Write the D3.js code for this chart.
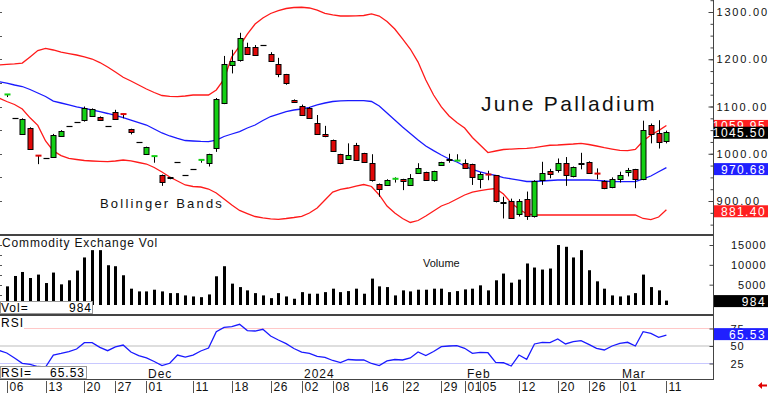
<!DOCTYPE html>
<html lang="en">
<head>
<meta charset="UTF-8">
<title>June Palladium</title>
<style>
  body { margin: 0; background: #fff; overflow: hidden; }
  svg { display: block; font-family: "Liberation Sans", Arial, sans-serif; }
</style>
</head>
<body>
<div id="chart"></div>
<script src="https://d3js.org/d3.v7.min.js"></script>
<script>
// trading days; the first one only carries the band / rsi values running off the left edge
var dates = ["2023-11-03",
  "2023-11-06","2023-11-07","2023-11-08","2023-11-09","2023-11-10",
  "2023-11-13","2023-11-14","2023-11-15","2023-11-16","2023-11-17",
  "2023-11-20","2023-11-21","2023-11-22","2023-11-24",
  "2023-11-27","2023-11-28","2023-11-29","2023-11-30",
  "2023-12-01",
  "2023-12-04","2023-12-05","2023-12-06","2023-12-07","2023-12-08",
  "2023-12-11","2023-12-12","2023-12-13","2023-12-14","2023-12-15",
  "2023-12-18","2023-12-19","2023-12-20","2023-12-21","2023-12-22",
  "2023-12-26","2023-12-27","2023-12-28","2023-12-29",
  "2024-01-02","2024-01-03","2024-01-04","2024-01-05",
  "2024-01-08","2024-01-09","2024-01-10","2024-01-11","2024-01-12",
  "2024-01-16","2024-01-17","2024-01-18","2024-01-19",
  "2024-01-22","2024-01-23","2024-01-24","2024-01-25","2024-01-26",
  "2024-01-29","2024-01-30","2024-01-31",
  "2024-02-01","2024-02-02",
  "2024-02-05","2024-02-06","2024-02-07","2024-02-08","2024-02-09",
  "2024-02-12","2024-02-13","2024-02-14","2024-02-15","2024-02-16",
  "2024-02-20","2024-02-21","2024-02-22","2024-02-23",
  "2024-02-26","2024-02-27","2024-02-28","2024-02-29",
  "2024-03-01",
  "2024-03-04","2024-03-05","2024-03-06","2024-03-07","2024-03-08",
  "2024-03-11"];

var open = [null, 1125,1075,1042,1054,996, 992,994,1038,1059,1067, 1070,1080,1078,1059, 1089,1084,1052,1025, 999,
  994,955,950,982,956, 968,986,981,1012,1107, 1188,1197,1225,1225,1230, 1212,1191,1168,1114,
  1101,1096,1066,1041, 1029,999,988,1018,1001, 980,935,934,946, 946,935,959,961,945, 976,988,985, 981,978,
  946,956,954,897,900, 872,905,867,945,963, 966,981,953,977, 983,958,942,930, 948, 961,967,946,1061,1044, 1027];
var high = [null, 1126,1075,1075,1056,997, 992,1042,1050,1059,1067, 1100,1096,1079,1059, 1093,1085,1053,1025, 1015,
  995,956,951,982,956, 968,987,1000,1118,1207, 1220,1256,1235,1230,1230, 1215,1203,1169,1115,
  1104,1099,1082,1059, 1030,1000,1022,1023,1002, 999,937,946,950, 947,957,980,962,964, 983,1000,999, 988,979,
  961,964,955,909,905, 904,920,944,983,968, 990,993,973,1002, 984,969,944,950, 962, 970,968,1070,1064,1071, 1049];
var low = [null, 1120,1075,1040,1008,978, 992,992,1037,1059,1067, 1068,1078,1070,1059, 1072,1075,1041,1025, 998,
  981,932,946,982,956, 968,981,973,1004,1105, 1170,1195,1210,1207,1230, 1196,1162,1146,1108,
  1081,1074,1041,1035, 1004,978,987,986,982, 941,909,933,939, 923,934,958,944,941, 975,981,984, 970,934,
  927,944,897,863,863, 867,860,865,934,948, 960,932,950,967, 958,946,925,927, 939, 952,927,944,1022,1011, 1022];
var close = [null, 1125.5,1075,1073,1010,995, 992,1040,1048,1059,1067, 1096,1094,1071,1059, 1074,1083,1045,1025, 1014,
  995,941,948,982,956, 968,987,999,1116,1189, 1196,1244,1211,1208,1230, 1197,1169,1148,1109,
  1082,1075,1043,1036, 1005,980,997,987,983, 943,925,944,947, 941,949,969,945,963, 982,985,985.5, 971,951,
  957,955,898,894,864, 900,868,942,959,956, 981,955,971,980, 960,957,928,946, 956, 965,946,1050,1043,1026, 1045.5];

var volume = [null, 4572,7190,8200,6680,7540, 5410,8050,5080,6100,8560, 11860,13700,13700,9900, 9650,7370,3990,3300, 3300,
  3730,3300,2870,2870,2290, 2030,1850,2540,7110,9650, 5260,4390,3560,2870,2290, 1600,2870,2030,1450,
  3120,2720,2720,3120, 3990,3120,3380,3990,2720, 6530,4570,4390,2290, 3560,3300,3730,3730,3990, 3990,3120,3380, 3810,3990,
  4830,3560,6100,7800,5510, 6270,10340,9320,8810,9070, 14990,14550,11860,13700, 8640,5840,3990,2290, 2030, 2290,2870,7540,4390,3560, 984];

var bandUpper = [1188, 1189,1190,1192,1205,1218.5, 1223,1219.6,1215,1212,1209, 1205,1200.5,1193,1183.6, 1173,1161.8,1154,1145.5, 1137,
  1129.6,1123.3,1121.6,1120.7,1122.2, 1124.3,1124.3,1124.3,1135,1158, 1205,1228,1253,1274.6,1287.3, 1296.8,1303,1307.4,1309.5,
  1310,1308.5,1304,1297, 1293.7,1291.5,1291.5,1292,1292.6, 1295.8,1291.5,1280,1264, 1243,1221.7,1194,1156,1124.3, 1099,1080,1066, 1054.5,1034.4,
  1018.5,1002.6,1005.8,1009,1010, 1011,1011.5,1013,1015.4,1018, 1018.5,1019.6,1020.6,1022, 1019.6,1016.4,1013,1010, 1007, 1006.5,1009,1027,1039.7,1049, 1059.95];
var bandMiddle = [1152.5, 1149.7,1145.5,1142.3,1136,1128.6, 1121.2,1111.6,1107.4,1103.2,1099, 1095.8,1092.6,1089,1085.2, 1081,1076.3,1071.4,1066, 1060.8,
  1052.4,1044,1037.6,1032.3,1028, 1027,1026,1025.5,1029,1036.5, 1041.8,1047,1054.5,1060.8,1070.4, 1078.8,1084,1089.4,1092.6,
  1094.7,1098.3,1103.2,1107.4, 1110.6,1112,1112.3,1112.3,1112.3, 1110.6,1101,1086.2,1071.4, 1056.6,1042.9,1029,1016.4,1006.5, 997.4,988.9,982.5, 974,966.7,
  961.4,957.6,954,949.7,947, 944.4,941.3,941.3,942.3,943.4, 944.4,944.4,944.4,944.4, 944.4,943.8,942.3,940.8, 940.8, 940.8,940.8,946.6,952.9,962, 970.68];
var bandLower = [1118, 1110.6,1104.2,1094.7,1076,1060, 1027,1006,996,990,987.8, 985.7,984.7,984,983.2, 984.7,986.8,984.7,981.5, 978.3,
  970.9,961.4,950.8,942.3,933.9, 930.7,929.6,925.4,917,904.2, 891.5,880,873.5,867.2,864.4, 862.3,861.3,863,865.1,
  867.6,874.6,885.2,902.1, 919,924.4,927.5,931.7,934.9, 930.7,912.7,889.4,874.6, 863,854.5,858.7,868.3,878.8, 889.4,895.8,904.2, 912.7,919,
  921.8,924.8,926.5,914.8,895.8, 883.1,872.5,870.4,870.4,870.4, 870.4,870.4,870.4,870.4, 870.4,870.4,870.4,870.4, 870.4, 870.4,870.4,863,860.8,866.1, 881.4];

var rsi = [43.6, 40,32.9,25.3,23.6,20.7, 20,37.1,39.3,42.1,45.7, 54.7,54.7,48.1,43.3, 48.6,51.4,41.4,36.4, 32.9,
  27.9,21.9,25.3,37.1,34, 37.1,42.9,47.1,70.4,76.7, 77.6,81,72.1,71.4,73.9, 64.3,58.6,53.3,46.4,
  41.4,39.6,35.3,33.6, 29.3,26.4,30.7,30,30, 25,22.1,28.6,30.7, 30,32.9,41.4,36.4,42.1, 49,50,50.4, 46.7,39.6,
  41,40.4,26.7,26.1,21.4, 37.1,31,52.9,55.3,54.7, 60,52.9,56.1,57.6, 52.4,46.7,44.3,50, 53.9, 55.3,50,70.4,68.1,62.4, 65.53];

var priceTicks = [900, 1000, 1100, 1200, 1300];
var volTicks = [5000, 10000, 15000];
var rsiTicks = [25, 50, 75];
var dayTicks = ["2023-11-06","2023-11-13","2023-11-20","2023-11-27","2023-12-01","2023-12-11","2023-12-18","2023-12-26",
  "2024-01-02","2024-01-08","2024-01-16","2024-01-22","2024-01-29","2024-02-01","2024-02-05","2024-02-12",
  "2024-02-20","2024-02-26","2024-03-01","2024-03-11"];
var monthTicks = ["2023-12-01","2024-01-02","2024-02-01","2024-03-01"];
var monthNames = ["Dec","2024","Feb","Mar"];

var upColor = "#14d014", downColor = "#e00808";
var axisX = 713;

var svg = d3.select("#chart").append("svg")
    .attr("width", 768)
    .attr("height", 393);

var x = d3.scalePoint().domain(dates).range([-1, 666.4]);
var y = d3.scaleLinear().domain([900, 1300]).range([201, 12]);
var yVol = d3.scaleLinear().domain([0, 15000]).range([304.5, 245]);
var yRsi = d3.scaleLinear().domain([25, 75]).range([363.5, 328.5]);

var defs = svg.append("defs");
defs.append("clipPath").attr("id", "clipMain").append("rect").attr("x", 0).attr("y", 0).attr("width", axisX).attr("height", 234);
defs.append("clipPath").attr("id", "clipVol").append("rect").attr("x", 0).attr("y", 237).attr("width", axisX).attr("height", 77);
defs.append("clipPath").attr("id", "clipRsi").append("rect").attr("x", 0).attr("y", 317).attr("width", axisX).attr("height", 50);

var rows = dates.map(function(d, i) {
  return {date: d, o: open[i], h: high[i], l: low[i], c: close[i], v: volume[i],
          up: bandUpper[i], mid: bandMiddle[i], lo: bandLower[i], rsi: rsi[i]};
});
var bars = rows.filter(function(d) { return d.o != null; });

// ---------- price panel ----------
var main = svg.append("g").attr("clip-path", "url(#clipMain)");

// left edge ticks
main.selectAll(".lt").data(d3.range(900, 1301, 50)).enter().append("line")
  .attr("x1", 0).attr("x2", 2)
  .attr("y1", function(d) { return Math.round(y(d)) + 0.5; })
  .attr("y2", function(d) { return Math.round(y(d)) + 0.5; })
  .attr("stroke", "#555");

var lineOf = function(key) {
  return d3.line().x(function(d) { return x(d.date); }).y(function(d) { return y(d[key]); });
};
main.append("path").datum(rows).attr("d", lineOf("up")).attr("fill", "none").attr("stroke", "#ff1a1a").attr("stroke-width", 1.3);
main.append("path").datum(rows).attr("d", lineOf("lo")).attr("fill", "none").attr("stroke", "#ff1a1a").attr("stroke-width", 1.3);
main.append("path").datum(rows).attr("d", lineOf("mid")).attr("fill", "none").attr("stroke", "#1a1aff").attr("stroke-width", 1.3);

var candle = main.selectAll(".candle").data(bars).enter().append("g");

// wicks
candle.filter(function(d) { return d.h > d.l; }).append("line")
  .attr("x1", function(d) { return Math.round(x(d.date)) + 0.5; })
  .attr("x2", function(d) { return Math.round(x(d.date)) + 0.5; })
  .attr("y1", function(d) { return y(d.h); })
  .attr("y2", function(d) { return y(d.l); })
  .attr("stroke", "#000").attr("stroke-width", 1);

// no range days: plain black dash
candle.filter(function(d) { return d.h == d.l; }).append("line")
  .attr("x1", function(d) { return Math.round(x(d.date)) - 2.5; })
  .attr("x2", function(d) { return Math.round(x(d.date)) + 3.5; })
  .attr("y1", function(d) { return Math.round(y(d.c)) + 0.5; })
  .attr("y2", function(d) { return Math.round(y(d.c)) + 0.5; })
  .attr("stroke", "#000").attr("stroke-width", 1.2);

// open ~ close: coloured cross bar
candle.filter(function(d) { return d.h > d.l && Math.abs(d.c - d.o) < 1.5; }).append("line")
  .attr("x1", function(d) { return Math.round(x(d.date)) - 2.5; })
  .attr("x2", function(d) { return Math.round(x(d.date)) + 3.5; })
  .attr("y1", function(d) { return y(Math.max(d.o, d.c)); })
  .attr("y2", function(d) { return y(Math.max(d.o, d.c)); })
  .attr("stroke", function(d) { return d.c >= d.o ? upColor : downColor; })
  .attr("stroke-width", 2);

candle.filter(function(d) { return d.h > d.l && Math.abs(d.c - d.o) >= 1.5; }).append("rect")
  .attr("x", function(d) { return Math.round(x(d.date)) - 2; })
  .attr("width", 5)
  .attr("y", function(d) { return Math.round(y(Math.max(d.o, d.c))) + 0.5; })
  .attr("height", function(d) { return Math.max(1, Math.round(Math.abs(y(d.o) - y(d.c)))); })
  .attr("fill", function(d) { return d.c > d.o ? upColor : downColor; })
  .attr("stroke", "#000").attr("stroke-width", 1);

svg.append("text").attr("x", 481).attr("y", 111)
  .style("font-size", "21px").style("letter-spacing", "2.3px").attr("fill", "#111")
  .text("June Palladium");
svg.append("text").attr("x", 100).attr("y", 208)
  .style("font-size", "13px").style("letter-spacing", "2.2px").attr("fill", "#111")
  .text("Bollinger Bands");

// ---------- volume panel ----------
var volG = svg.append("g").attr("clip-path", "url(#clipVol)");
volG.selectAll(".lt").data(d3.range(2500, 15001, 2500)).enter().append("line")
  .attr("x1", 0).attr("x2", 2)
  .attr("y1", function(d) { return Math.round(yVol(d)) + 0.5; })
  .attr("y2", function(d) { return Math.round(yVol(d)) + 0.5; })
  .attr("stroke", "#555");
volG.selectAll(".vbar").data(bars).enter().append("rect")
  .attr("x", function(d) { return Math.round(x(d.date)) - 1; })
  .attr("width", 3)
  .attr("y", function(d) { return yVol(d.v); })
  .attr("height", function(d) { return 305 - yVol(d.v); })
  .attr("fill", "#000");

svg.append("text").attr("x", 2).attr("y", 247)
  .style("font-size", "12px").style("letter-spacing", "0.85px").attr("fill", "#111")
  .text("Commodity Exchange Vol");
svg.append("text").attr("x", 423).attr("y", 267)
  .style("font-size", "11px").attr("fill", "#111")
  .text("Volume");

// Vol= box
svg.append("rect").attr("x", 0.5).attr("y", 301.5).attr("width", 92).attr("height", 12)
  .attr("fill", "#fff").attr("stroke", "#999");
svg.append("text").attr("x", 1).attr("y", 312).style("font-size", "12px").style("letter-spacing", "1px").text("Vol=");
svg.append("text").attr("x", 92).attr("y", 312).attr("text-anchor", "end").style("font-size", "12px").style("letter-spacing", "1px")
  .text(d3.format("d")(volume[volume.length - 1]));

// ---------- rsi panel ----------
var rsiG = svg.append("g").attr("clip-path", "url(#clipRsi)");
rsiG.append("line").attr("x1", 24).attr("x2", axisX).attr("y1", yRsi(75)).attr("y2", yRsi(75)).attr("stroke", "#ffc8c8");
rsiG.append("line").attr("x1", 0).attr("x2", axisX).attr("y1", yRsi(50)).attr("y2", yRsi(50)).attr("stroke", "#bdbdbd");
rsiG.append("line").attr("x1", 0).attr("x2", axisX).attr("y1", yRsi(25)).attr("y2", yRsi(25)).attr("stroke", "#c8c8ff");
rsiG.append("path").datum(rows)
  .attr("d", d3.line().x(function(d) { return x(d.date); }).y(function(d) { return yRsi(d.rsi); }))
  .attr("fill", "none").attr("stroke", "#1a1aff").attr("stroke-width", 1.3);

svg.append("text").attr("x", 1).attr("y", 327).style("font-size", "12px").style("letter-spacing", "1px").text("RSI");

// ---------- panel borders ----------
svg.append("line").attr("x1", 0).attr("x2", axisX).attr("y1", 235).attr("y2", 235).attr("stroke", "#444").attr("stroke-width", 2);
svg.append("line").attr("x1", 0).attr("x2", axisX).attr("y1", 315).attr("y2", 315).attr("stroke", "#444").attr("stroke-width", 2);
svg.append("line").attr("x1", 0).attr("x2", axisX).attr("y1", 379.5).attr("y2", 379.5).attr("stroke", "#444");
svg.append("line").attr("x1", axisX + 0.5).attr("x2", axisX + 0.5).attr("y1", 0).attr("y2", 380).attr("stroke", "#444");

// RSI= box
svg.append("rect").attr("x", 0.5).attr("y", 366.5).attr("width", 86).attr("height", 12)
  .attr("fill", "#fff").attr("stroke", "#999");
svg.append("text").attr("x", 1).attr("y", 377).style("font-size", "12px").style("letter-spacing", "1px").text("RSI=");
svg.append("text").attr("x", 85).attr("y", 377).attr("text-anchor", "end").style("font-size", "12px").style("letter-spacing", "1px")
  .text(d3.format(".2f")(rsi[rsi.length - 1]));

// ---------- right axes ----------
var priceAxis = svg.append("g").attr("transform", "translate(" + (axisX + 0.5) + ",0)")
  .call(d3.axisRight(y).tickValues(priceTicks).tickSizeInner(-5).tickSizeOuter(0).tickPadding(3).tickFormat(d3.format(".2f")));
var minorAxis = svg.append("g").attr("transform", "translate(" + (axisX + 0.5) + ",0)")
  .call(d3.axisRight(y).tickValues(d3.range(850, 1326, 25)).tickSize(-3).tickFormat(""));
var volAxis = svg.append("g").attr("transform", "translate(" + (axisX + 0.5) + ",0)")
  .call(d3.axisRight(yVol).tickValues(volTicks).tickSizeInner(-4).tickSizeOuter(0).tickPadding(53).tickFormat(d3.format("d")));
var rsiAxis = svg.append("g").attr("transform", "translate(" + (axisX + 0.5) + ",0)")
  .call(d3.axisRight(yRsi).tickValues(rsiTicks).tickSizeInner(-4).tickSizeOuter(0).tickPadding(17).tickFormat(d3.format("d")));

[priceAxis, minorAxis, volAxis, rsiAxis].forEach(function(g) {
  g.select(".domain").remove();
  g.selectAll(".tick line").attr("stroke", "#444");
  g.selectAll("text").attr("fill", "#111").style("font-family", "'Liberation Sans', Arial, sans-serif");
});
priceAxis.selectAll("text").style("font-size", "11px").style("letter-spacing", "1.8px");
volAxis.selectAll("text").attr("text-anchor", "end").style("font-size", "11px").style("letter-spacing", "1px");
rsiAxis.selectAll("text").style("font-size", "11px").style("letter-spacing", "1px");

// last value tags
function tag(yPos, label, bg) {
  svg.append("rect").attr("x", axisX + 1).attr("y", yPos - 6).attr("width", 768 - axisX).attr("height", 12).attr("fill", bg);
  svg.append("text").attr("x", 766).attr("y", yPos + 4.5).attr("text-anchor", "end")
    .style("font-size", "12px").style("letter-spacing", "1.4px").attr("fill", "#fff").text(label);
}
var last = rows[rows.length - 1];
tag(y(last.up) + 0.5, d3.format(".2f")(last.up), "#ff2020");
tag(y(last.c) + 0.5, d3.format(".2f")(last.c), "#000");
tag(y(last.mid) + 1.5, d3.format(".2f")(last.mid), "#2020ff");
tag(y(last.lo) + 1.5, d3.format(".2f")(last.lo), "#ff2020");
tag(yVol(last.v) + 0.5, d3.format("d")(last.v), "#000");
tag(yRsi(last.rsi) - 1, d3.format(".2f")(last.rsi), "#2020ff");

// ---------- date rows ----------
svg.selectAll(".mon").data(monthTicks).enter().append("text")
  .attr("x", function(d) { return Math.round(x(d)) + 2; })
  .attr("y", 378)
  .style("font-size", "12px").style("letter-spacing", "1px").attr("fill", "#111")
  .text(function(d, i) { return monthNames[i]; });

svg.append("line").attr("x1", axisX + 0.5).attr("x2", axisX + 0.5).attr("y1", 367).attr("y2", 379)
  .attr("stroke", "#444").attr("stroke-dasharray", "1,1");

var dayG = svg.selectAll(".day").data(dayTicks).enter().append("g")
  .attr("transform", function(d) { return "translate(" + (Math.round(x(d)) + 0.5) + ",0)"; });
dayG.append("line").attr("y1", 381).attr("y2", 393).attr("stroke", "#555");
dayG.append("text").attr("x", 2).attr("y", 391)
  .style("font-size", "12px").style("letter-spacing", "0.5px").attr("fill", "#111")
  .text(function(d) { return d.slice(8, 10); });

// little red arrow bottom right
svg.append("path")
  .attr("d", "M758,385.5 L762,382 L762,384.5 L767,384.5 L767,386.5 L762,386.5 L762,389 Z")
  .attr("fill", "#e00000");
</script>
</body>
</html>
